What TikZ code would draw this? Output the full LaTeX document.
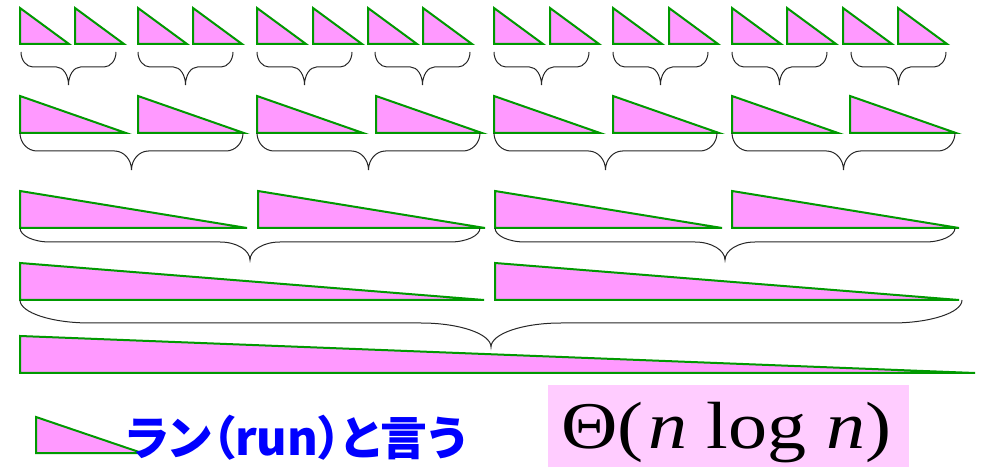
\documentclass[tikz,border=0pt]{standalone}
\usepackage{fontspec}
\usepackage{tikz}
\usetikzlibrary{positioning,calc}
\newfontfamily\jpfont{Noto Sans CJK JP}[RawFeature=+palt]
\newfontfamily\thetafont{Liberation Serif}
\definecolor{runpink}{HTML}{FF99FF}
\definecolor{rungreen}{HTML}{009900}
\definecolor{boxpink}{HTML}{FFCCFF}
\definecolor{runblue}{HTML}{0000FF}

% run triangle: left x, right x, top y, bottom y
\newcommand{\runtri}[4]{%
  \draw[run] (#1,#3) -- (#1,#4) -- (#2,#4) -- cycle;}
% merge brace: left x, right x, start y, middle y, tip y, curl
\newcommand{\runbrace}[6]{%
  \pgfmathsetmacro{\brmid}{(#1+#2)/2}
  \draw[merge] (#1,#3) .. controls (#1,{#3+0.55*(#4-#3)}) and ({#1+0.45*#6},#4) .. ({#1+#6},#4)
    -- ({\brmid-#6},#4) .. controls ({\brmid-0.45*#6},#4) and (\brmid,{#4+0.45*(#5-#4)}) .. (\brmid,#5)
    .. controls (\brmid,{#4+0.45*(#5-#4)}) and ({\brmid+0.45*#6},#4) .. ({\brmid+#6},#4)
    -- ({#2-#6},#4) .. controls ({#2-0.45*#6},#4) and (#2,{#3+0.55*(#4-#3)}) .. (#2,#3);}

\begin{document}
\begin{tikzpicture}[x=1bp, y=-1bp,
    run/.style={fill=runpink, draw=rungreen, line width=2bp},
    merge/.style={draw=black!85, line width=1bp}]
  \useasboundingbox (0,0) rectangle (984,467);

  % Row 1 (16 runs)
  \foreach \x in {20,75,138,193,257,313,368,423,494,550,613,669,732,787,843,898} {
    \pgfmathsetmacro{\xr}{\x+49}
    \runtri{\x}{\xr}{8}{44}
  }
  \foreach \x in {21,138,257,375,494,613,732,851} {
    \pgfmathsetmacro{\xr}{\x+95}
    \runbrace{\x}{\xr}{52}{67}{85}{12}
  }

  % Row 2 (8 runs)
  \foreach \x in {20,138,257,376,494,613,732,850} {
    \pgfmathsetmacro{\xr}{\x+106}
    \runtri{\x}{\xr}{96}{133}
  }
  \foreach \x in {20,257,494,732} {
    \pgfmathsetmacro{\xr}{\x+223}
    \runbrace{\x}{\xr}{133}{151}{170}{17}
  }

  % Row 3 (4 runs)
  \foreach \x in {20,258,495,732} {
    \pgfmathsetmacro{\xr}{\x+227}
    \runtri{\x}{\xr}{191}{228}
  }
  \foreach \x in {20,495} {
    \pgfmathsetmacro{\xr}{\x+460}
    \runbrace{\x}{\xr}{228}{242}{260}{30}
  }

  % Row 4 (2 runs)
  \foreach \x in {20,495} {
    \pgfmathsetmacro{\xr}{\x+464}
    \runtri{\x}{\xr}{263}{300}
  }
  \runbrace{20}{962}{300}{323}{347}{70}

  % Row 5 (1 run)
  \runtri{20}{975}{336}{373}

  % legend
  \runtri{36}{142}{417}{453}
  \node[anchor=base west, inner sep=0, text=runblue, font=\jpfont\bfseries\fontsize{47}{52}\selectfont]
    (runlabel) at (126,455) {ラン（run）と言う};

  % cost
  \fill[boxpink] (548,385) rectangle (909,467);
  \node[anchor=base west, inner sep=0, xscale=1.17, font=\thetafont\fontsize{67}{70}\selectfont]
    (cost) at (561,448) {Θ(\kern4bp\textit{n} log \textit{n})};
\end{tikzpicture}
\end{document}
